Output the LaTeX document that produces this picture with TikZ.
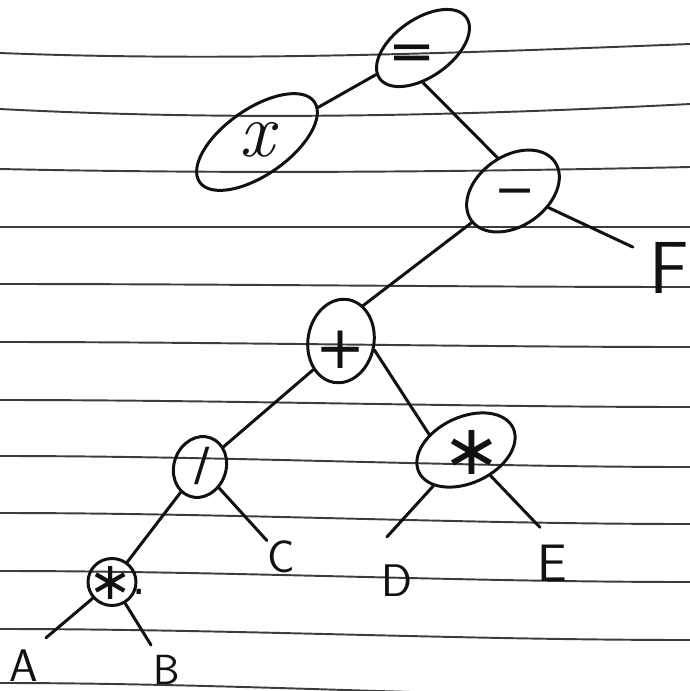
\documentclass[tikz,border=0pt]{standalone}
\usepackage{fontspec}
\newfontfamily\opfont{DejaVu Sans}
\usetikzlibrary{shapes.geometric}
\definecolor{ink}{HTML}{111111}
\definecolor{rulecol}{HTML}{3C3C3C}
\begin{document}
\begin{tikzpicture}[x=0.02cm,y=-0.02cm,
  rulestroke/.style={draw=rulecol, line width=1.1pt},
  ell/.style={draw=ink, line width=1.7pt, ellipse, inner sep=0pt},
  conn/.style={draw=ink, line width=1.7pt, line cap=round},
  op/.style={inner sep=0pt, text=ink, font=\opfont\fontsize{32}{36}\selectfont},
  leaf/.style={inner sep=0pt, text=ink, font=\sffamily\fontsize{26}{30}\selectfont}]
\useasboundingbox (0,0) rectangle (690,691);
\fill[white] (0,0) rectangle (690,691);
% ruled paper
\foreach \yl/\yr/\b in {53/44/9, 109/104/12, 169/167/5, 227/227/0, 284/287/0, 342/347/0, 400/407/0, 456/467/0, 513/524/0, 571/582/0, 629/640/0, 683/697/0}
  \draw[rulestroke] (0,\yl) .. controls (230,\yl+\b) and (460,\yr+\b) .. (690,\yr);
% operator ellipses
\node[ell, rotate=35, minimum width=2.12cm, minimum height=1.16cm] (eq) at (423,48) {};
\node[ell, rotate=35, minimum width=2.8cm, minimum height=1.32cm] (xn) at (257,142) {};
\node[ell, rotate=35, minimum width=2.04cm, minimum height=1.4cm] (mi) at (513,191) {};
\node[ell, rotate=80, minimum width=1.68cm, minimum height=1.32cm] (pl) at (341,341) {};
\node[ell, rotate=25, minimum width=2.08cm, minimum height=1.32cm] (st) at (466,450) {};
\node[ell, rotate=70, minimum width=1.24cm, minimum height=1.04cm] (dv) at (200,467) {};
\node[ell, minimum width=0.96cm, minimum height=0.94cm] (sm) at (112,582) {};
% operator texts
\node[op] (eqt) at (412,58) {=};
\node[inner sep=0pt, text=ink, font=\itshape\fontsize{44}{48}\selectfont] (xt) at (257,140) {x};
\node[op, font=\opfont\fontsize{28}{32}\selectfont] (mit) at (515,198) {−};
\node[op, font=\opfont\fontsize{34}{38}\selectfont] (plt) at (341,350) {+};
\node[op, font=\opfont\fontsize{40}{44}\selectfont] (stt) at (472,452) {∗};
\node[op, font=\opfont\fontsize{26}{30}\selectfont] (dvt) at (202,466) {/};
\node[op, font=\opfont\fontsize{30}{34}\selectfont] (smt) at (111,583) {∗};
\node[op, font=\opfont\fontsize{24}{28}\selectfont] (smd) at (139,592) {.};
% leaves
\node[leaf] (A) at (24,666) {A};
\node[leaf, font=\sffamily\fontsize{24}{28}\selectfont] (B) at (167,670) {B};
\node[leaf] (C) at (281,557) {C};
\node[leaf] (D) at (397,581) {D};
\node[leaf, font=\sffamily\fontsize{30}{34}\selectfont] (E) at (552,563) {E};
\node[leaf, font=\sffamily\fontsize{42}{46}\selectfont] (F) at (669,268) {F};
% connectors
\draw[conn] (eq) -- (xn);
\draw[conn] (eq.235) -- (mi.80);
\draw[conn] (mi) -- ([shift={(-16,5)}]F.north west);
\draw[conn] (mi) -- (pl.338);
\draw[conn] (pl.146) -- (dv);
\draw[conn] (pl.265) -- (st.132);
\draw[conn] (st) -- ([shift={(-10,-28)}]D.north);
\draw[conn] (st) -- ([shift={(-12,-17)}]E.north);
\draw[conn] (dv) -- (C.north west);
\draw[conn] (dv) -- (sm);
\draw[conn] (sm) -- ([shift={(22,-12)}]A.north);
\draw[conn] (sm) -- ([shift={(-16,-10)}]B.north);
\end{tikzpicture}
\end{document}
